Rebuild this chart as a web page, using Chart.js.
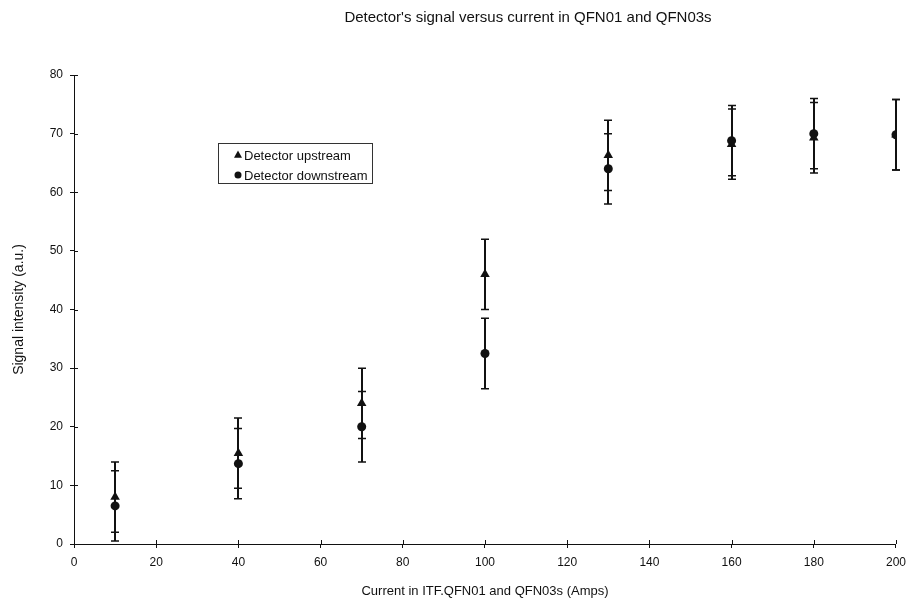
<!DOCTYPE html>
<html>
<head>
<meta charset="utf-8">
<title>Detector signal vs current</title>
<script src="https://cdn.jsdelivr.net/npm/chart.js@4/dist/chart.umd.min.js"></script>
<style>
  html, body { margin: 0; padding: 0; background: #fff; }
  canvas { display: block; }
</style>
</head>
<body>
<canvas id="chart" width="913" height="605"></canvas>
<script>
// magnet current (A) at each measurement
const currents = [10, 40, 70, 100, 130, 160, 180, 200];
// signal intensity (a.u.) and its uncertainty
const upstream = [8.0, 15.5, 24.0, 46.0, 66.3, 68.2, 69.3, 69.8];
const upstreamErr = [6, 6, 6, 6, 6, 6, 6, 6];
const downstream = [6.5, 13.7, 20.0, 32.5, 64.0, 68.8, 70.0, 69.8];
const downstreamErr = [6, 6, 6, 6, 6, 6, 6, 6];

const xTicks = [0, 20, 40, 60, 80, 100, 120, 140, 160, 180, 200];
const yTicks = [0, 10, 20, 30, 40, 50, 60, 70, 80];

const FONT = '"Liberation Sans", Arial, sans-serif';
const INK = '#111';

function toPoints(xs, ys) {
    return xs.map((x, i) => ({ x: x, y: ys[i] }));
}

// vertical error bars with end caps, drawn under the markers
const errorBarPlugin = {
    id: 'errorBars',
    beforeDatasetsDraw(chart) {
        const ctx = chart.ctx;
        const xs = chart.scales.x, ys = chart.scales.y;
        ctx.save();
        ctx.strokeStyle = INK;
        chart.data.datasets.forEach(ds => {
            ds.data.forEach((p, i) => {
                const e = ds.errorBars[i];
                const px = Math.round(xs.getPixelForValue(p.x));
                const top = ys.getPixelForValue(p.y + e);
                const bot = ys.getPixelForValue(p.y - e);
                ctx.lineWidth = 2;
                ctx.beginPath();
                ctx.moveTo(px, top);
                ctx.lineTo(px, bot);
                ctx.stroke();
                ctx.lineWidth = 1.5;
                ctx.beginPath();
                ctx.moveTo(px - 4, top); ctx.lineTo(px + 4, top);
                ctx.moveTo(px - 4, bot); ctx.lineTo(px + 4, bot);
                ctx.stroke();
            });
        });
        ctx.restore();
    }
};

// tick marks that cross the axis line (outer half comes from the grid options)
const innerTicksPlugin = {
    id: 'innerTicks',
    afterDraw(chart) {
        const ctx = chart.ctx;
        const xs = chart.scales.x, ys = chart.scales.y;
        const area = chart.chartArea;
        ctx.save();
        ctx.strokeStyle = INK;
        ctx.lineWidth = 1;
        ctx.beginPath();
        xTicks.forEach(v => {
            const px = Math.round(xs.getPixelForValue(v)) + 0.5;
            ctx.moveTo(px, area.bottom);
            ctx.lineTo(px, area.bottom - 4);
        });
        yTicks.forEach(v => {
            const py = Math.round(ys.getPixelForValue(v)) + 0.5;
            ctx.moveTo(area.left, py);
            ctx.lineTo(area.left + 4, py);
        });
        ctx.stroke();
        ctx.restore();
    }
};

// title text, placed right of the plot centre
const headingPlugin = {
    id: 'heading',
    afterDraw(chart) {
        const ctx = chart.ctx;
        ctx.save();
        ctx.fillStyle = INK;
        ctx.font = '15px ' + FONT;
        ctx.textAlign = 'center';
        ctx.textBaseline = 'middle';
        ctx.fillText("Detector's signal versus current in QFN01 and QFN03s", 528, 18);
        ctx.restore();
    }
};

// boxed legend sitting inside the plot
const boxLegendPlugin = {
    id: 'boxLegend',
    afterDraw(chart) {
        const ctx = chart.ctx;
        const bx = 218, by = 143, bw = 154, bh = 40;
        ctx.save();
        ctx.fillStyle = '#fff';
        ctx.fillRect(bx, by, bw, bh);
        ctx.strokeStyle = '#333';
        ctx.lineWidth = 1;
        ctx.strokeRect(bx + 0.5, by + 0.5, bw, bh);
        ctx.font = '13px ' + FONT;
        ctx.textBaseline = 'middle';
        chart.data.datasets.forEach((ds, i) => {
            const cy = by + 12 + i * 20;
            const cx = bx + 20;
            ctx.fillStyle = INK;
            ctx.beginPath();
            if (ds.pointStyle === 'triangle') {
                ctx.moveTo(cx, cy - 4.5);
                ctx.lineTo(cx + 4, cy + 2.8);
                ctx.lineTo(cx - 4, cy + 2.8);
                ctx.closePath();
            } else {
                ctx.arc(cx, cy, 3.5, 0, Math.PI * 2);
            }
            ctx.fill();
            ctx.fillText(ds.label, cx + 6, cy + 1);
        });
        ctx.restore();
    }
};

const ctx = document.getElementById('chart').getContext('2d');
new Chart(ctx, {
    type: 'scatter',
    data: {
        datasets: [
            {
                label: 'Detector upstream',
                data: toPoints(currents, upstream),
                errorBars: upstreamErr,
                pointStyle: 'triangle',
                pointRadius: 5.5,
                backgroundColor: INK,
                borderColor: INK,
                borderWidth: 0,
                order: 1
            },
            {
                label: 'Detector downstream',
                data: toPoints(currents, downstream),
                errorBars: downstreamErr,
                pointStyle: 'circle',
                pointRadius: 4.5,
                backgroundColor: INK,
                borderColor: INK,
                borderWidth: 0,
                order: 0
            }
        ]
    },
    options: {
        responsive: false,
        animation: false,
        layout: { padding: { top: 75, right: 14, bottom: 0, left: 0 } },
        plugins: {
            legend: { display: false },
            tooltip: { enabled: false },
            title: { display: false }
        },
        scales: {
            x: {
                type: 'linear',
                min: 0, max: 200,
                afterBuildTicks: s => { s.ticks = xTicks.map(v => ({ value: v })); },
                afterFit: s => { s.height = 61; },
                grid: { drawOnChartArea: false, tickLength: 4, color: INK },
                border: { color: INK, width: 1 },
                ticks: { color: INK, padding: 7, maxRotation: 0, font: { family: FONT, size: 12 } },
                title: {
                    display: true,
                    text: 'Current in ITF.QFN01 and QFN03s (Amps)',
                    color: INK,
                    font: { family: FONT, size: 13 },
                    padding: { top: 0, bottom: 6 }
                }
            },
            y: {
                type: 'linear',
                min: 0, max: 80,
                afterBuildTicks: s => { s.ticks = yTicks.map(v => ({ value: v })); },
                afterFit: s => { s.width = 74; },
                grid: { drawOnChartArea: false, tickLength: 4, color: INK },
                border: { color: INK, width: 1 },
                ticks: { color: INK, padding: 7, font: { family: FONT, size: 12 } },
                title: {
                    display: true,
                    text: 'Signal intensity (a.u.)',
                    color: INK,
                    font: { family: FONT, size: 14 },
                    padding: { top: 11, bottom: 0 }
                }
            }
        }
    },
    plugins: [errorBarPlugin, innerTicksPlugin, headingPlugin, boxLegendPlugin]
});
</script>
</body>
</html>
